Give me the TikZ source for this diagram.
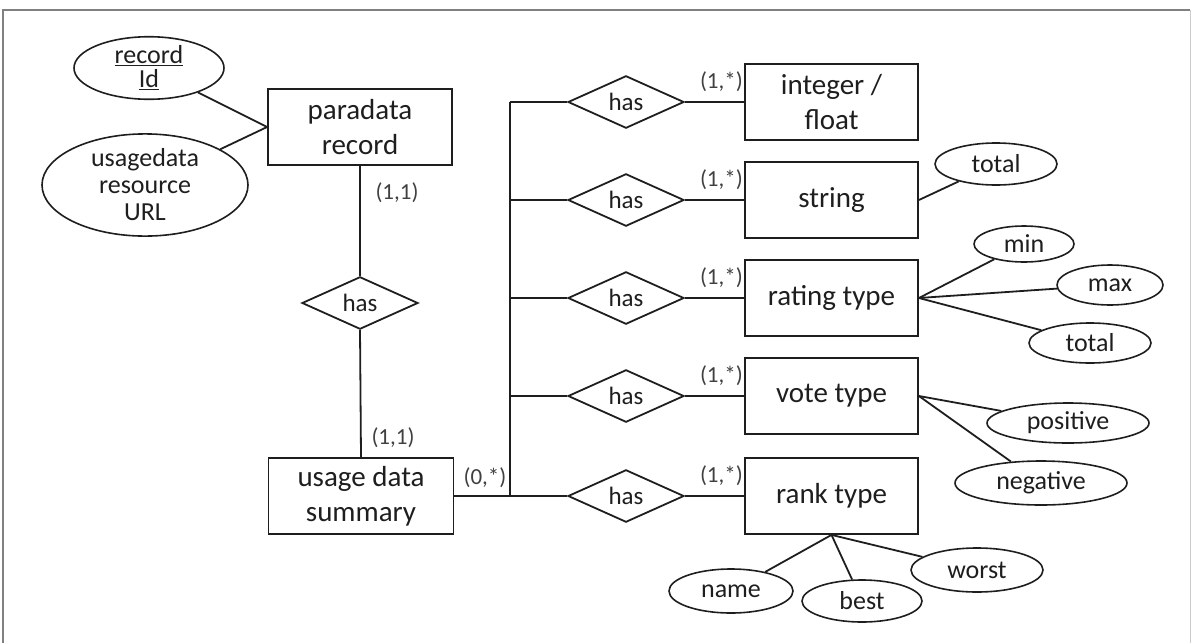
\documentclass[tikz,border=0pt]{standalone}
\usepackage{fontspec}
\setmainfont{Carlito}
\usetikzlibrary{shapes.geometric}
\definecolor{ink}{HTML}{1E1E1E}
\tikzset{
  ent/.style={draw=ink, line width=1.8pt, rectangle, minimum width=#1, minimum height=76pt, inner sep=0pt, align=center, font=\fontsize{29}{35}\selectfont, text=ink},
  ent/.default=173pt,
  rel/.style={draw=ink, line width=1.8pt, diamond, minimum width=116pt, minimum height=51pt, inner sep=0pt, font=\fontsize{25}{30}\selectfont, text=ink},
  attr/.style={draw=ink, line width=1.6pt, ellipse, inner sep=0pt, align=center, font=\fontsize{26}{27}\selectfont, text=ink},
  card/.style={font=\fontsize{23}{25}\selectfont, text=ink!85, inner sep=0pt},
  conn/.style={draw=ink, line width=1.8pt},
}
\begin{document}
\begin{tikzpicture}[x=1pt,y=-1pt]
\useasboundingbox (0,0) rectangle (1193,643);
% frame
\draw[line width=1.8pt, color=gray] (3,643) -- (3,10) -- (1190,10);
\draw[line width=1pt, color=gray!40] (1190,10) -- (1190,643);

% left part
\node[ent=184pt] (para) at (360,127) {paradata\\record};
\node[attr, minimum width=150pt, minimum height=50pt, font=\fontsize{26}{25}\selectfont] (recid) at (149,68) {\underline{record}\\[-1pt]\underline{Id}};
\node[attr, minimum width=206pt, minimum height=80pt] (url) at (145,185) {usagedata\\resource\\URL};
\node[rel] (has0) at (360,303) {has};
\node[ent=185pt] (usage) at (361,496) {usage data\\summary};

\draw[conn] (recid) -- (para.west);
\draw[conn] (url) -- (para.west);
\draw[conn] (para.south) -- (has0.north);
\draw[conn] (has0.south) -- (usage.north);
\node[card] (c11a) at (397,193) {(1,1)};
\node[card] (c11b) at (393,438) {(1,1)};
\node[card] (c0s) at (485,478) {(0,*)};

% bus
\coordinate (b1) at (510,102);
\coordinate (b2) at (510,200);
\coordinate (b3) at (510,298);
\coordinate (b4) at (510,396);
\coordinate (b5) at (510,496);
\draw[conn] (usage.east) -- (b5) -- (b1);

% relationships and entities
\foreach \i/\y/\t in {1/102/{integer /\\float}, 2/200/string, 3/298/rating type, 4/396/vote type, 5/496/rank type}{
  \node[rel] (has\i) at (626,\y) {has};
  \node[ent] (e\i) at (831.5,\y) {\t};
  \draw[conn] (b\i) -- (has\i.west);
  \draw[conn] (has\i.east) -- (e\i.west);
  \node[card, anchor=east] (c\i) at (743,\y-20) {(1,*)};
}

% attributes
\node[attr, minimum width=122pt, minimum height=42pt] (stot) at (996,164) {total};
\node[attr, minimum width=100pt, minimum height=36pt] (rmin) at (1024,244) {min};
\node[attr, minimum width=106pt, minimum height=40pt] (rmax) at (1110,285) {max};
\node[attr, minimum width=122pt, minimum height=40pt] (rtot) at (1090,343) {total};
\node[attr, minimum width=162pt, minimum height=40pt] (vpos) at (1068,423) {positive};
\node[attr, minimum width=172pt, minimum height=44pt] (vneg) at (1041,483) {negative};
\node[attr, minimum width=124pt, minimum height=44pt] (kname) at (731,591) {name};
\node[attr, minimum width=120pt, minimum height=42pt] (kbest) at (862,601) {best};
\node[attr, minimum width=132pt, minimum height=44pt] (kworst) at (977,570) {worst};

\draw[conn] (e2.east) -- (stot);
\draw[conn] (e3.east) -- (rmin);
\draw[conn] (e3.east) -- (rmax);
\draw[conn] (e3.east) -- (rtot);
\draw[conn] (e4.east) -- (vpos);
\draw[conn] (e4.east) -- (vneg);
\draw[conn] (e5.south) -- (kname);
\draw[conn] (e5.south) -- (kbest);
\draw[conn] (e5.south) -- (kworst);
\end{tikzpicture}
\end{document}
